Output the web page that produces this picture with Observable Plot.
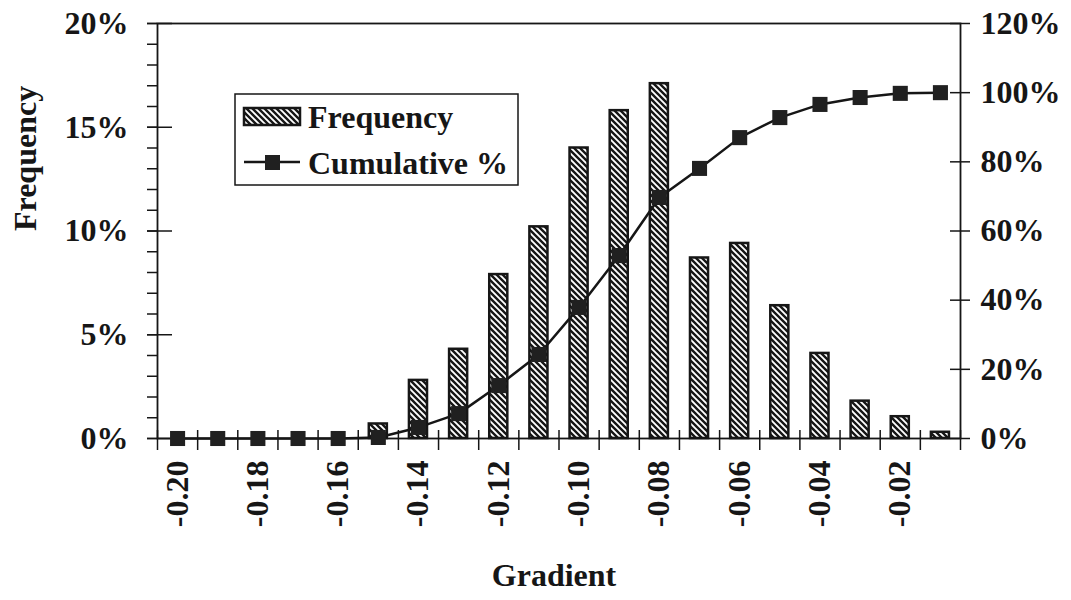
<!DOCTYPE html>
<html><head><meta charset="utf-8">
<script src="https://cdn.jsdelivr.net/npm/d3@7"></script>
<script src="https://cdn.jsdelivr.net/npm/@observablehq/plot@0.6"></script>
<style>
body{margin:0;background:#fff;}
#chart{position:relative;width:1071px;height:600px;}
</style></head><body><div id="chart"></div>
<script>
// ---- data ----
const gradients = [-0.20,-0.19,-0.18,-0.17,-0.16,-0.15,-0.14,-0.13,-0.12,-0.11,-0.10,-0.09,-0.08,-0.07,-0.06,-0.05,-0.04,-0.03,-0.02,-0.01];
const frequency = [0,0,0,0,0,0.7,2.8,4.3,7.9,10.2,14.0,15.8,17.1,8.7,9.4,6.4,4.1,1.8,1.05,0.3];
const cumulative = [0,0,0,0,0,0.3,3.2,7.2,15.3,24.3,37.9,52.9,69.7,78.1,87.0,92.8,96.6,98.6,99.8,100];
const xTickLabels = [-0.20,-0.18,-0.16,-0.14,-0.12,-0.10,-0.08,-0.06,-0.04,-0.02];
const leftTicks = [0,5,10,15,20];
const leftMinorTicks = d3.range(0, 21, 1);
const rightTicks = [0,20,40,60,80,100,120];
const legendLabels = ["Frequency","Cumulative %"];
const xTitle = "Gradient";
const yTitle = "Frequency";

// ---- build ----
const data = gradients.map((g,i)=>({g, freq: frequency[i], cum: cumulative[i]}));
const step = 0.01, half = 0.00225;
const boundaries = d3.range(gradients.length + 1).map(i => gradients[0] - step/2 + i*step);
const ratio = 6; // right axis 0-120% maps onto left 0-20%
const W = 1071, H = 600, mL = 157, mR = 111, mT = 23, mB = 162;
const iW = W - mL - mR, iH = H - mT - mB;
const font = "'Liberation Serif','Times New Roman',serif";
const ink = "#161616";
const txt = {fontFamily: font, fontWeight: "bold", fontSize: 32, fill: ink};

const plot = Plot.plot({
  width: W, height: H,
  marginLeft: mL, marginRight: mR, marginTop: mT, marginBottom: mB,
  style: {fontFamily: font, fontWeight: "bold", fontSize: "32px", color: ink, background: "#fff"},
  x: {domain: [gradients[0] - step/2, gradients[gradients.length-1] + step/2], axis: null},
  y: {domain: [0, 20], axis: null},
  marks: [
    Plot.rectY(data.filter(d => d.freq > 0), {x1: d => d.g - half, x2: d => d.g + half, y: "freq", fill: "url(#hatch)", stroke: ink, strokeWidth: 2.5}),
    Plot.frame({stroke: ink, strokeWidth: 1.8}),
    // left axis ticks
    Plot.tickY(leftMinorTicks, {y: d => d, insetLeft: -10, insetRight: iW, stroke: ink, strokeWidth: 1.5}),
    Plot.tickY(leftTicks, {y: d => d, insetLeft: -10, insetRight: iW - 15, stroke: ink, strokeWidth: 1.5}),
    Plot.text(leftTicks, {y: d => d, text: d => d + "%", frameAnchor: "left", dx: -29, textAnchor: "end", ...txt}),
    // right axis ticks
    Plot.tickY(rightTicks, {y: d => d / ratio, insetLeft: iW - 10, insetRight: -10, stroke: ink, strokeWidth: 1.5}),
    Plot.text(rightTicks, {y: d => d / ratio, text: d => d + "%", frameAnchor: "right", dx: 20, textAnchor: "start", ...txt}),
    // x axis ticks at category boundaries
    Plot.tickX(boundaries, {x: d => d, insetTop: iH - 8, insetBottom: -12, stroke: ink, strokeWidth: 1.5}),
    Plot.text(xTickLabels, {x: d => d, text: d => d.toFixed(2), frameAnchor: "bottom", dy: 22, dx: 10, rotate: -90, textAnchor: "end", ...txt}),
    // cumulative line
    Plot.line(data, {x: "g", y: d => d.cum / ratio, stroke: ink, strokeWidth: 2.5}),
    Plot.dot(data, {x: "g", y: d => d.cum / ratio, symbol: "square", r: 8.5, fill: "#202020"}),
    // titles
    Plot.text([xTitle], {text: d => d, frameAnchor: "bottom", dy: 147, dx: -5, ...txt}),
    Plot.text([yTitle], {text: d => d, frameAnchor: "left", dx: -132, rotate: -90, ...txt})
  ]
});

const svg = d3.select(plot);
const defs = svg.insert("defs", ":first-child");
const pat = defs.append("pattern").attr("id", "hatch").attr("patternUnits", "userSpaceOnUse")
  .attr("width", 6).attr("height", 6);
pat.append("rect").attr("width", 6).attr("height", 6).attr("fill", "#fff");
pat.append("path").attr("d", "M-1,-1L7,7M-1,5L1,7M5,-1L7,1").attr("stroke", ink).attr("stroke-width", 2.4);

// legend
const lg = svg.append("g").attr("class", "legend");
lg.append("rect").attr("x", 235).attr("y", 94).attr("width", 283).attr("height", 91)
  .attr("fill", "#fff").attr("stroke", ink).attr("stroke-width", 1.5);
lg.append("rect").attr("x", 244).attr("y", 108).attr("width", 56).attr("height", 17)
  .attr("fill", "url(#hatch)").attr("stroke", ink).attr("stroke-width", 2.5);
lg.append("line").attr("x1", 244).attr("x2", 300).attr("y1", 162).attr("y2", 162)
  .attr("stroke", ink).attr("stroke-width", 2.5);
lg.append("rect").attr("x", 265).attr("y", 155).attr("width", 15).attr("height", 15).attr("fill", "#202020");
lg.selectAll("text.lab").data(legendLabels).join("text").attr("class", "lab")
  .attr("x", 308).attr("y", (d, i) => 117 + i * 46).attr("dy", "0.35em")
  .attr("text-anchor", "start")
  .attr("font-family", font).attr("font-weight", "bold").attr("font-size", 32).attr("fill", ink)
  .text(d => d);

document.getElementById("chart").appendChild(plot);
</script></body></html>
